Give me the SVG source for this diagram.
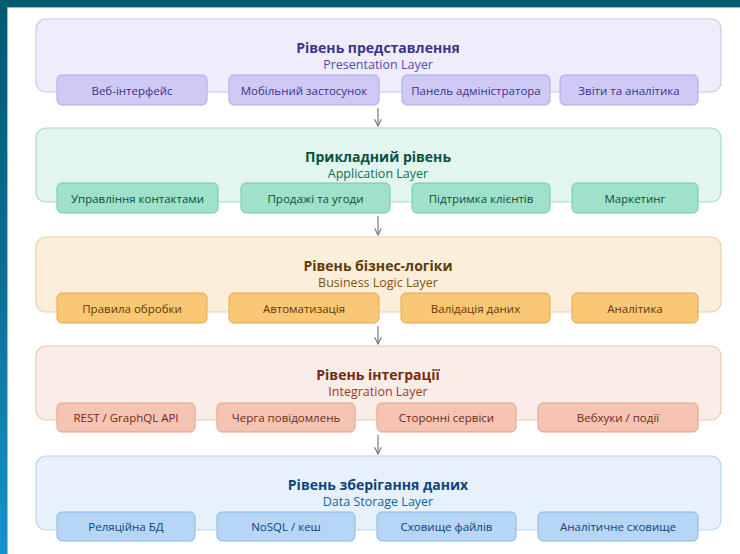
<svg xmlns="http://www.w3.org/2000/svg" width="740" height="554" viewBox="0 0 740 554">
  <defs>
    <linearGradient id="sideBand" x1="0" y1="0" x2="0" y2="1">
      <stop offset="0" stop-color="#005a70"/>
      <stop offset="0.5" stop-color="#0a6f94"/>
      <stop offset="1" stop-color="#1692cf"/>
    </linearGradient>
    <marker id="arrow" viewBox="0 0 10 10" refX="9" refY="5" markerWidth="7" markerHeight="7" orient="auto">
      <path d="M1,1 L9,5 L1,9" fill="none" stroke="#7a7a7a" stroke-width="1.4"/>
    </marker>
    <style>
      .outer { stroke-width: 1.2; }
      .sub { stroke-width: 1; }
      .title { font-family: "Open Sans", "Noto Sans", sans-serif; font-size: 14px; font-weight: 700; text-anchor: middle; }
      .subtitle { font-family: "Open Sans", "Noto Sans", sans-serif; font-size: 12.5px; text-anchor: middle; }
      .item { font-family: "Open Sans", "Noto Sans", sans-serif; font-size: 11.5px; text-anchor: middle; dominant-baseline: central; }
      .conn { stroke: #7a7a7a; stroke-width: 1.2; fill: none; }

      .purple .outer { fill: #efedfc; stroke: #cbc6f0; }
      .purple .sub { fill: #cecaf5; stroke: #aea6e6; }
      .purple .title { fill: #3c3489; }
      .purple .subtitle { fill: #534ab7; }
      .purple .item { fill: #3c3489; }

      .teal .outer { fill: #e2f5ef; stroke: #a9dcc9; }
      .teal .sub { fill: #9fe1cb; stroke: #79c7ab; }
      .teal .title { fill: #085041; }
      .teal .subtitle { fill: #0f6e56; }
      .teal .item { fill: #085041; }

      .amber .outer { fill: #fbefdc; stroke: #e9d0a9; }
      .amber .sub { fill: #fac775; stroke: #e1a94f; }
      .amber .title { fill: #633806; }
      .amber .subtitle { fill: #854f0b; }
      .amber .item { fill: #633806; }

      .coral .outer { fill: #faece7; stroke: #efc6b7; }
      .coral .sub { fill: #f5c4b3; stroke: #e0a18a; }
      .coral .title { fill: #712b13; }
      .coral .subtitle { fill: #993c1d; }
      .coral .item { fill: #712b13; }

      .blue .outer { fill: #e7f1fb; stroke: #b8d5f3; }
      .blue .sub { fill: #b7d5f4; stroke: #86b7e8; }
      .blue .title { fill: #0c447c; }
      .blue .subtitle { fill: #185fa5; }
      .blue .item { fill: #0c447c; }
    </style>
  </defs>

  <!-- frame -->
  <rect x="0" y="0" width="740" height="554" fill="#ffffff"/>
  <rect x="0" y="0" width="7" height="554" fill="url(#sideBand)"/>
  <rect x="0" y="0" width="740" height="7" fill="#005a70"/>
  <line x1="7.5" y1="7" x2="7.5" y2="554" stroke="#8fc3d6" stroke-width="1"/>
  <line x1="7" y1="7.5" x2="740" y2="7.5" stroke="#8fb8c4" stroke-width="1"/>

  <!-- connectors between layers -->
  <g id="connectors">
    <line class="conn" x1="378" y1="108" x2="378" y2="126" marker-end="url(#arrow)"/>
    <line class="conn" x1="378" y1="216" x2="378" y2="235" marker-end="url(#arrow)"/>
    <line class="conn" x1="378" y1="326" x2="378" y2="344" marker-end="url(#arrow)"/>
    <line class="conn" x1="378" y1="435" x2="378" y2="454" marker-end="url(#arrow)"/>
  </g>

  <!-- Presentation layer -->
  <g id="presentation-layer" class="purple">
    <rect class="outer" x="36" y="19" width="685" height="73" rx="10"/>
    <text class="title" x="378" y="53">Рівень представлення</text>
    <text class="subtitle" x="378" y="69">Presentation Layer</text>
    <g id="web-ui"><rect class="sub" x="57" y="75" width="150" height="30" rx="5"/><text class="item" x="132" y="90">Веб-інтерфейс</text></g>
    <g id="mobile-app"><rect class="sub" x="229" y="75" width="150" height="30" rx="5"/><text class="item" x="304" y="90">Мобільний застосунок</text></g>
    <g id="admin-panel"><rect class="sub" x="402" y="75" width="148" height="30" rx="5"/><text class="item" x="476" y="90">Панель адміністратора</text></g>
    <g id="reports"><rect class="sub" x="560" y="75" width="138" height="30" rx="5"/><text class="item" x="629" y="90">Звіти та аналітика</text></g>
  </g>

  <!-- Application layer -->
  <g id="application-layer" class="teal">
    <rect class="outer" x="36" y="128" width="685" height="74" rx="10"/>
    <text class="title" x="378" y="162">Прикладний рівень</text>
    <text class="subtitle" x="378" y="178">Application Layer</text>
    <g id="contacts"><rect class="sub" x="57" y="183" width="161" height="30" rx="5"/><text class="item" x="137.5" y="198">Управління контактами</text></g>
    <g id="sales"><rect class="sub" x="241" y="183" width="149" height="30" rx="5"/><text class="item" x="315.5" y="198">Продажі та угоди</text></g>
    <g id="support"><rect class="sub" x="412" y="183" width="138" height="30" rx="5"/><text class="item" x="481" y="198">Підтримка клієнтів</text></g>
    <g id="marketing"><rect class="sub" x="572" y="183" width="126" height="30" rx="5"/><text class="item" x="635" y="198">Маркетинг</text></g>
  </g>

  <!-- Business logic layer -->
  <g id="business-logic-layer" class="amber">
    <rect class="outer" x="36" y="237" width="685" height="75" rx="10"/>
    <text class="title" x="378" y="271">Рівень бізнес-логіки</text>
    <text class="subtitle" x="378" y="287">Business Logic Layer</text>
    <g id="rules"><rect class="sub" x="57" y="293" width="150" height="30" rx="5"/><text class="item" x="132" y="308">Правила обробки</text></g>
    <g id="automation"><rect class="sub" x="229" y="293" width="150" height="30" rx="5"/><text class="item" x="304" y="308">Автоматизація</text></g>
    <g id="validation"><rect class="sub" x="401" y="293" width="149" height="30" rx="5"/><text class="item" x="475.5" y="308">Валідація даних</text></g>
    <g id="analytics"><rect class="sub" x="572" y="293" width="126" height="30" rx="5"/><text class="item" x="635" y="308">Аналітика</text></g>
  </g>

  <!-- Integration layer -->
  <g id="integration-layer" class="coral">
    <rect class="outer" x="36" y="346" width="685" height="74" rx="10"/>
    <text class="title" x="378" y="380">Рівень інтеграції</text>
    <text class="subtitle" x="378" y="396">Integration Layer</text>
    <g id="api"><rect class="sub" x="57" y="403" width="138" height="29" rx="5"/><text class="item" x="126" y="417.5">REST / GraphQL API</text></g>
    <g id="queue"><rect class="sub" x="217" y="403" width="138" height="29" rx="5"/><text class="item" x="286" y="417.5">Черга повідомлень</text></g>
    <g id="third-party"><rect class="sub" x="377" y="403" width="139" height="29" rx="5"/><text class="item" x="446.5" y="417.5">Сторонні сервіси</text></g>
    <g id="webhooks"><rect class="sub" x="538" y="403" width="160" height="29" rx="5"/><text class="item" x="618" y="417.5">Вебхуки / події</text></g>
  </g>

  <!-- Data storage layer -->
  <g id="storage-layer" class="blue">
    <rect class="outer" x="36" y="456" width="685" height="74" rx="10"/>
    <text class="title" x="378" y="490">Рівень зберігання даних</text>
    <text class="subtitle" x="378" y="506">Data Storage Layer</text>
    <g id="relational-db"><rect class="sub" x="57" y="512" width="138" height="29" rx="5"/><text class="item" x="126" y="526.5">Реляційна БД</text></g>
    <g id="nosql"><rect class="sub" x="217" y="512" width="138" height="29" rx="5"/><text class="item" x="286" y="526.5">NoSQL / кеш</text></g>
    <g id="file-storage"><rect class="sub" x="377" y="512" width="139" height="29" rx="5"/><text class="item" x="446.5" y="526.5">Сховище файлів</text></g>
    <g id="warehouse"><rect class="sub" x="538" y="512" width="160" height="29" rx="5"/><text class="item" x="618" y="526.5">Аналітичне сховище</text></g>
  </g>
</svg>
